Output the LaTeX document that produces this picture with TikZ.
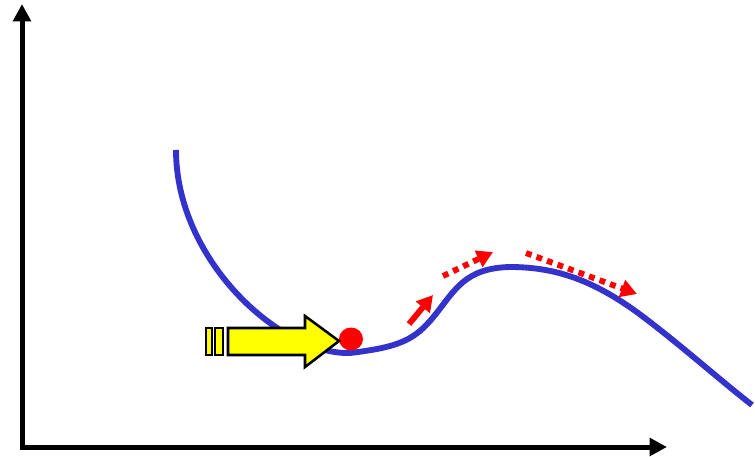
\documentclass[tikz,border=0pt]{standalone}
\usepackage{tikz}
\usetikzlibrary{arrows.meta}
\usepackage{xcolor}
\definecolor{curveblue}{HTML}{3333CC}
\definecolor{ballred}{HTML}{FF0000}
\definecolor{pushyellow}{HTML}{FFFF00}
\tikzset{
  axis/.style={line width=3.75pt, {Triangle[length=13pt, width=13pt]}-{Triangle[length=13pt, width=13pt]}},
  landscape/.style={line width=4.4pt, curveblue},
  push/.style={draw=black, line width=1.9pt, fill=pushyellow, line join=miter},
  moveon/.style={-{Triangle[length=12pt, width=13pt]}, line width=4.4pt, ballred},
  movedot/.style={moveon, dash pattern=on 4.4pt off 4pt},
}
\begin{document}
\begin{tikzpicture}[x=0.75pt, y=-0.75pt]
\useasboundingbox (0,0) rectangle (755,456);
% axes
\coordinate (ytop) at (22,4);
\coordinate (origin) at (22,447);
\coordinate (xend) at (667,447);
\draw[axis] (ytop) -- (origin) -- (xend);
% energy landscape
\draw[landscape] (176,150) .. controls (176,260) and (280,355) .. (350,353)
  .. controls (400,347) and (415,340) .. (435,315)
  .. controls (455,290) and (465,268) .. (510,267)
  .. controls (560,267) and (600,283) .. (650,322)
  .. controls (690,353) and (720,380) .. (752,405);
% ball
\fill[ballred] (351,339) ellipse (12 and 11.5);
% push arrow
\draw[push] (206,328) rectangle (212,355);
\draw[push] (215,328) rectangle (223,355);
\draw[push] (228,328) -- (305,328) -- (305,316) -- (339,341) -- (305,367) -- (305,355) -- (228,355) -- cycle;
% motion hints
\coordinate (m1a) at (409,324);
\coordinate (m1b) at (433,295);
\coordinate (m2a) at (443,276);
\coordinate (m2b) at (493,252);
\coordinate (m3a) at (526,253);
\coordinate (m3b) at (637,294);
\draw[moveon] (m1a) -- (m1b);
\draw[movedot] (m2a) -- (m2b);
\draw[movedot] (m3a) -- (m3b);
\end{tikzpicture}
\end{document}
